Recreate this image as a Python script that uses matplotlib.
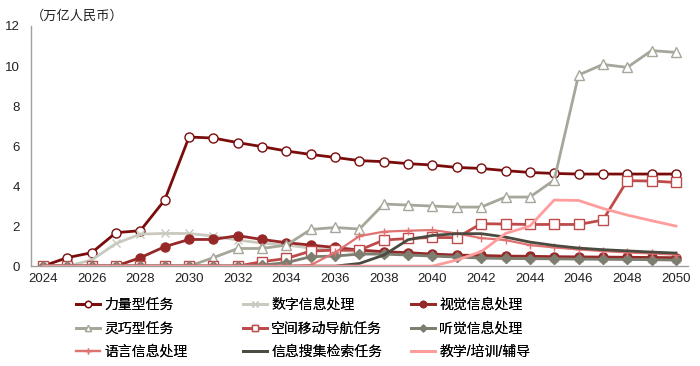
import numpy as np
import matplotlib
matplotlib.use("Agg")
import matplotlib.pyplot as plt

plt.rcParams['font.family'] = ['Liberation Sans', 'Noto Sans CJK SC']

years = list(range(2024, 2051))

# 万亿人民币
liliang = [0, 0.42, 0.67, 1.67, 1.77, 3.3, 6.45, 6.4, 6.17, 5.97, 5.75, 5.58, 5.43, 5.27,
           5.22, 5.12, 5.05, 4.93, 4.88, 4.77, 4.68, 4.63, 4.6, 4.6, 4.6, 4.6, 4.6]
shuzi = [0, 0, 0.3, 1.13, 1.6, 1.63, 1.63, 1.5, 1.3, 1.15, 1.05, 0.9, 0.8, 0.72,
         0.66, 0.6, 0.56, 0.52, 0.49, 0.46, 0.44, 0.42, 0.4, 0.39, 0.38, 0.37, 0.36]
shijue = [0, 0, 0, 0, 0.42, 0.97, 1.33, 1.33, 1.52, 1.33, 1.17, 1.05, 0.93, 0.8,
          0.72, 0.67, 0.6, 0.55, 0.53, 0.5, 0.49, 0.47, 0.46, 0.45, 0.44, 0.43, 0.42]
lingqiao = [0, 0, 0, 0, 0, 0, 0, 0.42, 0.88, 0.88, 1.05, 1.83, 1.93, 1.85,
            3.1, 3.05, 3.0, 2.95, 2.95, 3.45, 3.45, 4.3, 9.55, 10.08, 9.93, 10.77, 10.68]
kongjian = [0, 0, 0, 0, 0, 0, 0, 0, 0, 0.22, 0.38, 0.75, 0.8, 0.8,
            1.3, 1.38, 1.43, 1.42, 2.12, 2.1, 2.08, 2.08, 2.08, 2.3, 4.27, 4.25, 4.18]
tingjue = [0, 0, 0, 0, 0, 0, 0, 0, 0, 0.05, 0.17, 0.47, 0.5, 0.6,
           0.6, 0.55, 0.5, 0.45, 0.4, 0.38, 0.37, 0.36, 0.35, 0.34, 0.33, 0.32, 0.3]
yuyan = [0, 0, 0, 0, 0, 0, 0, 0, 0, 0, 0, 0.05, 0.68, 1.5,
         1.72, 1.77, 1.8, 1.63, 1.4, 1.3, 1.05, 0.93, 0.83, 0.75, 0.68, 0.63, 0.57]
sousuo = [0, 0, 0, 0, 0, 0, 0, 0, 0, 0, 0, 0, 0, 0.13,
          0.55, 1.32, 1.53, 1.62, 1.62, 1.45, 1.2, 1.03, 0.9, 0.82, 0.76, 0.7, 0.65]
jiaoxue = [0, 0, 0, 0, 0, 0, 0, 0, 0, 0, 0, 0, 0, 0,
           0, 0, 0, 0.3, 0.72, 1.63, 2.0, 3.3, 3.28, 2.88, 2.55, 2.27, 2.0]

series = [
    ("力量型任务", liliang, dict(color="#7a0c0c", lw=2.0, marker="o", ms=6.5, mfc="white", mec="#7a0c0c", mew=1.0)),
    ("数字信息处理", shuzi, dict(color="#c9c9bf", lw=2.0, marker="x", ms=6, mew=1.0)),
    ("视觉信息处理", shijue, dict(color="#962828", lw=2.0, marker="o", ms=6.5, mfc="#962828")),
    ("灵巧型任务", lingqiao, dict(color="#a6a69a", lw=2.0, marker="^", ms=6.5, mfc="white", mec="#a6a69a", mew=1.0)),
    ("空间移动导航任务", kongjian, dict(color="#bf4a4a", lw=2.0, marker="s", ms=6.5, mfc="white", mec="#bf4a4a", mew=1.0)),
    ("听觉信息处理", tingjue, dict(color="#7d7d70", lw=2.0, marker="D", ms=5, mfc="#7d7d70")),
    ("语言信息处理", yuyan, dict(color="#e07272", lw=1.6, marker="+", ms=6, mew=1.0)),
    ("信息搜集检索任务", sousuo, dict(color="#4a4a40", lw=2.0)),
    ("教学/培训/辅导", jiaoxue, dict(color="#ff9c9c", lw=2.0)),
]

fig = plt.figure(figsize=(7, 3.66), dpi=100)
ax = fig.add_axes([0.044, 0.273, 0.939, 0.656])

handles = []
for name, vals, style in series:
    h, = ax.plot(years, vals, label=name, **style)
    handles.append(h)

ax.set_xlim(2023.5, 2050.5)
ax.set_ylim(0, 12)
ax.set_xticks(years[::2])
ax.set_yticks(range(0, 13, 2))
ax.tick_params(length=0, labelsize=9.5, colors="#222222")
ax.tick_params(axis="y", pad=8)
ax.tick_params(axis="x", pad=5)
for s in ["top", "right"]:
    ax.spines[s].set_visible(False)
for s in ["left", "bottom"]:
    ax.spines[s].set_color("#a0a0a0")
    ax.spines[s].set_linewidth(1.0)

fig.text(0.044, 0.955, "（万亿人民币）", fontsize=9.5, ha="left", va="center", color="#222222")

# legend: three columns, placed separately
col_x = [0.108, 0.347, 0.587]
for c in range(3):
    hs = handles[c::3]
    lg = fig.legend(handles=hs, labels=[h.get_label() for h in hs], loc="upper left",
                    bbox_to_anchor=(col_x[c], 0.186), frameon=False, fontsize=10,
                    handlelength=1.75, handletextpad=0.3, labelspacing=0.68,
                    borderaxespad=0, borderpad=0, markerscale=0.7)
    fig.add_artist(lg)

fig.savefig("out.png", dpi=100)
